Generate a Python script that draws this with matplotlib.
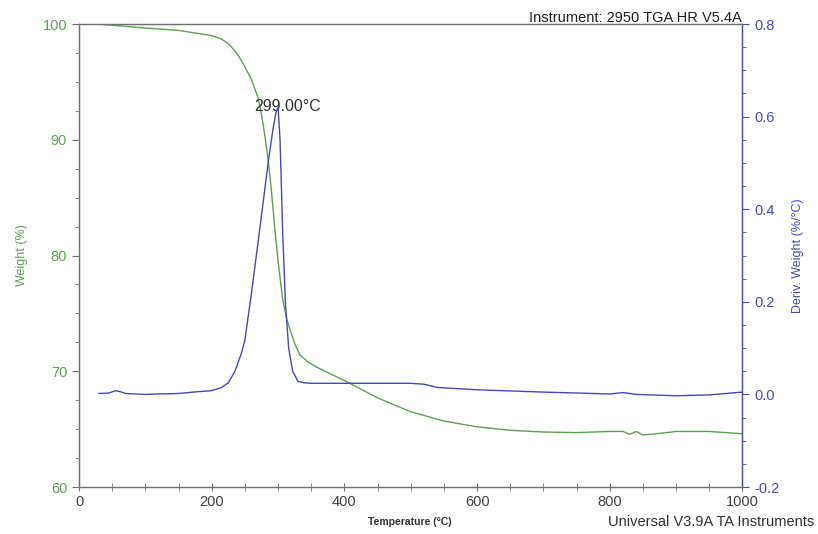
import matplotlib
matplotlib.use("Agg")
import matplotlib.pyplot as plt
import matplotlib.ticker as ticker

plt.rcParams['font.family'] = ['Liberation Sans', 'DejaVu Sans']

# TGA weight curve
temp_w = [27, 60, 100, 150, 200, 215, 227, 240, 250, 260, 270, 275, 280, 285, 290, 295,
          300, 307, 313, 318, 325, 333, 345, 360, 400, 450, 500, 550, 600, 650, 700, 750,
          800, 820, 830, 840, 850, 870, 900, 950, 1000]
weight = [100.0, 99.85, 99.65, 99.45, 99.0, 98.7, 98.2, 97.3, 96.3, 95.2, 93.6, 92.2, 90.4,
          88.3, 85.6, 82.4, 79.5, 76.2, 74.5, 73.6, 72.4, 71.4, 70.8, 70.3, 69.2, 67.7,
          66.5, 65.7, 65.2, 64.9, 64.75, 64.7, 64.8, 64.8, 64.55, 64.8, 64.5, 64.6, 64.8,
          64.8, 64.6]

# derivative weight curve
temp_d = [30, 45, 55, 62, 70, 100, 120, 150, 180, 200, 215, 225, 235, 245, 250, 260, 270,
          278, 285, 292, 297, 300, 303, 307, 311, 316, 322, 330, 340, 350, 400, 450, 500,
          520, 540, 600, 700, 800, 820, 840, 900, 950, 1000]
deriv = [0.002, 0.003, 0.008, 0.006, 0.002, 0.0, 0.001, 0.002, 0.006, 0.008, 0.015, 0.025,
         0.05, 0.09, 0.117, 0.22, 0.33, 0.42, 0.50, 0.57, 0.61, 0.62, 0.55, 0.35, 0.2, 0.1,
         0.05, 0.028, 0.025, 0.024, 0.024, 0.024, 0.024, 0.022, 0.015, 0.01, 0.005, 0.001,
         0.004, 0.0, -0.003, -0.001, 0.005]

peak_label = "299.00°C"
green = "#5f9f55"
blue = "#4848b0"
gray = "#707070"

fig = plt.figure(figsize=(8.18, 5.34), dpi=100)
ax = fig.add_axes([0.0966, 0.088, 0.8111, 0.867])
ax2 = ax.twinx()

ax.plot(temp_w, weight, color=green, lw=1.0)
ax2.plot(temp_d, deriv, color=blue, lw=1.0)

ax.set_xlim(0, 1000)
ax.set_ylim(60, 100)
ax2.set_ylim(-0.2, 0.8)

ax.xaxis.set_major_locator(ticker.MultipleLocator(200))
ax.xaxis.set_minor_locator(ticker.MultipleLocator(50))
ax.yaxis.set_major_locator(ticker.MultipleLocator(10))
ax.yaxis.set_minor_locator(ticker.MultipleLocator(2.5))
ax2.yaxis.set_major_locator(ticker.MultipleLocator(0.2))
ax2.yaxis.set_minor_locator(ticker.MultipleLocator(0.05))
ax2.yaxis.set_major_formatter(ticker.FormatStrFormatter('%.1f'))

ax.tick_params(axis='x', which='both', direction='inout', length=6, color=gray,
               labelsize=10.5, labelcolor='#404040', pad=3)
ax.tick_params(axis='y', which='major', direction='out', length=5, color=gray,
               labelsize=10.5, labelcolor=green)
ax.tick_params(axis='y', which='minor', direction='out', length=3, color=gray)
ax2.tick_params(axis='y', which='major', direction='out', length=5, color=blue,
                labelsize=10.5, labelcolor=blue)
ax2.tick_params(axis='y', which='minor', direction='out', length=3, color=blue)

for a in (ax, ax2):
    for s in a.spines.values():
        s.set_linewidth(0.9)
        s.set_color(gray)
ax2.spines['right'].set_color(blue)

ax.text(314, 92.9, peak_label, ha='center', va='center', fontsize=11.5, color='#303030')

ax.set_ylabel("Weight (%)", color=green, fontsize=9)
ax.yaxis.set_label_coords(-0.077, 0.5)
ax2.set_ylabel("Deriv. Weight (%/°C)", color=blue, fontsize=9)
ax2.yaxis.set_label_coords(1.075, 0.5)

fig.text(0.501, 0.022, "Temperature (°C)", ha='center', va='center', fontsize=7.5,
         fontweight='bold', color='#303030')
fig.text(0.996, 0.022, "Universal V3.9A TA Instruments", ha='right', va='center',
         fontsize=10.5, color='#303030')
fig.text(0.907, 0.958, "Instrument: 2950 TGA HR V5.4A", ha='right', va='baseline',
         fontsize=10.5, color='#202020')

fig.savefig("out.png", dpi=100)
